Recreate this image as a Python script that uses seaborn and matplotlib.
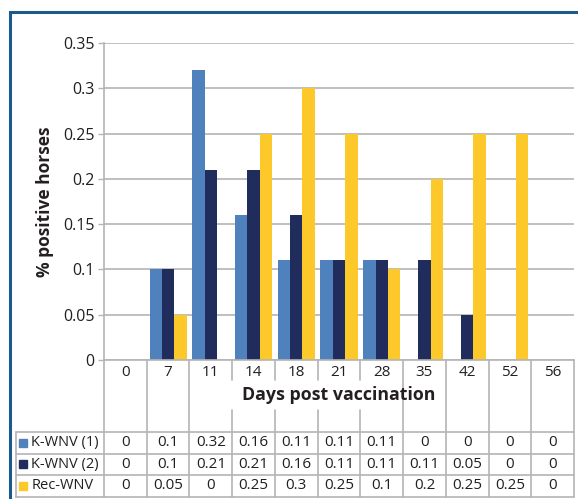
import numpy as np
import pandas as pd
import seaborn as sns
import matplotlib.pyplot as plt
import matplotlib.transforms as mtransforms
from matplotlib.patches import Rectangle

# Data
days = ['0', '7', '11', '14', '18', '21', '28', '35', '42', '52', '56']
kwnv_1 = [0, 0.1, 0.32, 0.16, 0.11, 0.11, 0.11, 0, 0, 0, 0]
kwnv_2 = [0, 0.1, 0.21, 0.21, 0.16, 0.11, 0.11, 0.11, 0.05, 0, 0]
rec_wnv = [0, 0.05, 0, 0.25, 0.3, 0.25, 0.1, 0.2, 0.25, 0.25, 0]
series_names = ['K-WNV (1)', 'K-WNV (2)', 'Rec-WNV']
series_colors = ['#4f81bd', '#1f2c5c', '#fdc82a']

df = pd.DataFrame({
    'day': days * 3,
    'group': np.repeat(series_names, len(days)),
    'value': kwnv_1 + kwnv_2 + rec_wnv,
})

sns.set_theme(style='white')
plt.rcParams['font.family'] = ['Open Sans', 'DejaVu Sans']
txt_color = '#231f20'
line_color = '#b4b4b4'

W, H, DPI = 578, 499, 100
fig = plt.figure(figsize=(W / DPI, H / DPI), dpi=DPI)
ax_l, ax_r, ax_t, ax_b = 104, 574, 43, 360
ax = fig.add_axes([ax_l / W, 1 - ax_b / H, (ax_r - ax_l) / W, (ax_b - ax_t) / H])
ax_h = ax_b - ax_t

sns.barplot(data=df, x='day', y='value', hue='group', order=days,
            hue_order=series_names, palette=series_colors, width=0.87,
            saturation=1, linewidth=0, legend=False, ax=ax)

ax.set_xlim(-0.5, len(days) - 0.5)
ax.set_ylim(0, 0.35)
ax.set_yticks(np.arange(0, 0.351, 0.05))
ax.set_yticklabels(['0', '0.05', '0.1', '0.15', '0.2', '0.25', '0.3', '0.35'],
                   fontsize=11.5, color=txt_color)
ax.tick_params(axis='y', length=4, width=1, color=line_color, pad=3, left=True)
ax.set_xticks([])
ax.set_xlabel('')
ax.set_ylabel('% positive horses', fontsize=12.5, fontweight='bold',
              color=txt_color, labelpad=6)
ax.yaxis.grid(True, color=line_color, linewidth=1.2)
ax.set_axisbelow(True)
for side in ['top', 'right']:
    ax.spines[side].set_visible(False)
for side in ['left', 'bottom']:
    ax.spines[side].set_color(line_color)
    ax.spines[side].set_linewidth(1.2)

# data table under the chart (x in data units, y in axes fraction)
trans = mtransforms.blended_transform_factory(ax.transData, ax.transAxes)
def fy(px):
    return -px / ax_h

label_left = -0.5 - (ax_l - 16) / ((ax_r - ax_l) / len(days))
right = len(days) - 0.5
header_bottom, row_h = 72, 21.5
row_lines = [header_bottom + i * row_h for i in range(4)]
lkw = dict(color=line_color, linewidth=1.2, transform=trans, clip_on=False)

for y in row_lines:
    ax.plot([label_left, right], [fy(y), fy(y)], **lkw)
ax.plot([label_left, label_left], [fy(row_lines[0]), fy(row_lines[-1])], **lkw)
ax.plot([-0.5, -0.5], [0, fy(row_lines[-1])], **lkw)
ax.plot([right, right], [0, fy(row_lines[-1])], **lkw)
for i in range(1, len(days)):
    b = i - 0.5
    if 3 <= i <= 6:
        ax.plot([b, b], [0, fy(20)], **lkw)
        ax.plot([b, b], [fy(50), fy(row_lines[-1])], **lkw)
    else:
        ax.plot([b, b], [0, fy(row_lines[-1])], **lkw)

for i, d in enumerate(days):
    ax.text(i, fy(12), d, ha='center', va='center', fontsize=11,
            color=txt_color, transform=trans, clip_on=False)
ax.text(5.0, fy(35), 'Days post vaccination', ha='center', va='center',
        fontsize=12.8, fontweight='bold', color=txt_color, transform=trans)

for r, (name, vals, col) in enumerate(zip(series_names,
                                           [kwnv_1, kwnv_2, rec_wnv],
                                           series_colors)):
    yc = fy(row_lines[r] + row_h / 2)
    for i, v in enumerate(vals):
        ax.text(i, yc, f'{v:g}', ha='center', va='center', fontsize=11,
                color=txt_color, transform=trans)
    ax.plot([label_left + 0.17], [yc], marker='s', markersize=6, color=col,
            transform=trans, clip_on=False, linestyle='none')
    ax.text(label_left + 0.36, yc, name, ha='left', va='center', fontsize=10.5,
            color=txt_color, transform=trans)

# frame around the figure (top and left edges visible)
fig.patches.append(Rectangle((9.5 / W, -0.2), 1.2, 1 - 11.5 / H + 0.2,
                             transform=fig.transFigure, fill=False,
                             edgecolor='#1b5a8e', linewidth=2.2))

fig.savefig('out.png', dpi=DPI, facecolor='white')
